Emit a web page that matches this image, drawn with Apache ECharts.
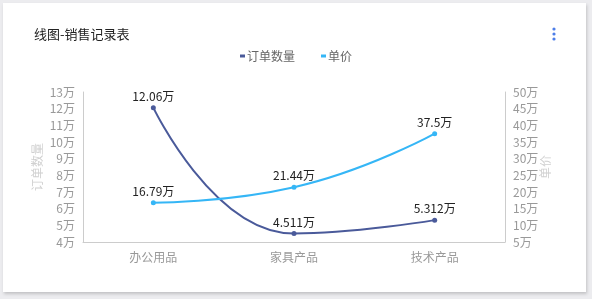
<!DOCTYPE html>
<html><head><meta charset="utf-8">
<script src="https://cdn.jsdelivr.net/npm/echarts@6/dist/echarts.min.js"></script>
<style>
html,body{margin:0;padding:0;background:#ececef;width:592px;height:299px;overflow:hidden;}
#card{position:absolute;left:3px;top:3px;width:583px;height:289px;background:#fff;box-shadow:1px 2px 3px rgba(0,0,0,0.18);}
#chart{position:absolute;left:0;top:0;width:592px;height:299px;}
</style></head>
<body>
<div id="card"></div>
<div id="chart"></div>
<script>
const categories = ['办公用品', '家具产品', '技术产品'];
const orderCount = [120600, 45110, 53120];
const unitPrice = [167900, 214400, 375000];
const seriesNames = ['订单数量', '单价'];

const fmt = v => (v / 10000) + '万';
const font = '"Noto Sans CJK SC", "Noto Sans", sans-serif';

const chart = echarts.init(document.getElementById('chart'), null, {renderer: 'canvas'});
chart.setOption({
  backgroundColor: 'transparent',
  textStyle: {fontFamily: font},
  title: {text: '线图-销售记录表', left: 29, top: 23, textStyle: {fontSize: 13, fontWeight: 'normal', color: '#222', fontFamily: font}},
  legend: {
    data: seriesNames, top: 45, left: 'center', icon: 'rect', itemWidth: 5, itemHeight: 3, itemGap: 26,
    textStyle: {color: '#666', fontSize: 12, fontFamily: font, padding: [0,0,0,-3]}
  },
  graphic: [
    {type: 'circle', shape: {cx: 554, cy: 29, r: 1.6}, style: {fill: '#4d7ee8'}},
    {type: 'circle', shape: {cx: 554, cy: 34, r: 1.6}, style: {fill: '#4d7ee8'}},
    {type: 'circle', shape: {cx: 554, cy: 39, r: 1.6}, style: {fill: '#4d7ee8'}}
  ],
  grid: {left: 83, right: 87, top: 92, bottom: 57},
  xAxis: {
    type: 'category', data: categories, boundaryGap: true,
    axisLine: {lineStyle: {color: '#ccc'}}, axisTick: {show: false},
    axisLabel: {color: '#999', fontSize: 12, margin: 9, fontFamily: font}
  },
  yAxis: [
    {type: 'value', name: seriesNames[0], nameLocation: 'middle', nameGap: 40, nameRotate: 90, nameMoveOverlap: false,
     nameTextStyle: {color: '#d0d0d0', fontSize: 12},
     min: 40000, max: 130000, interval: 10000,
     axisLine: {show: true, lineStyle: {color: '#ccc'}}, axisTick: {show: false}, splitLine: {show: false},
     axisLabel: {formatter: fmt, color: '#999', fontSize: 12, margin: 8}},
    {type: 'value', name: seriesNames[1], nameLocation: 'middle', nameGap: 34, nameRotate: 90, nameMoveOverlap: false,
     nameTextStyle: {color: '#d0d0d0', fontSize: 12},
     min: 50000, max: 500000, interval: 50000,
     axisLine: {show: true, lineStyle: {color: '#ccc'}}, axisTick: {show: false}, splitLine: {show: false},
     axisLabel: {formatter: fmt, color: '#999', fontSize: 12, margin: 8}}
  ],
  series: [
    {name: seriesNames[0], type: 'line', data: orderCount, yAxisIndex: 0, smooth: true,
     symbol: 'circle', symbolSize: 5, color: '#4a5a9a', lineStyle: {width: 2},
     label: {show: true, position: 'top', formatter: p => fmt(p.value), color: '#222', fontSize: 12, distance: 3}},
    {name: seriesNames[1], type: 'line', data: unitPrice, yAxisIndex: 1, smooth: true,
     symbol: 'circle', symbolSize: 5, color: '#35b6f6', lineStyle: {width: 2},
     label: {show: true, position: 'top', formatter: p => fmt(p.value), color: '#222', fontSize: 12, distance: 3}}
  ]
});
</script>
</body></html>
